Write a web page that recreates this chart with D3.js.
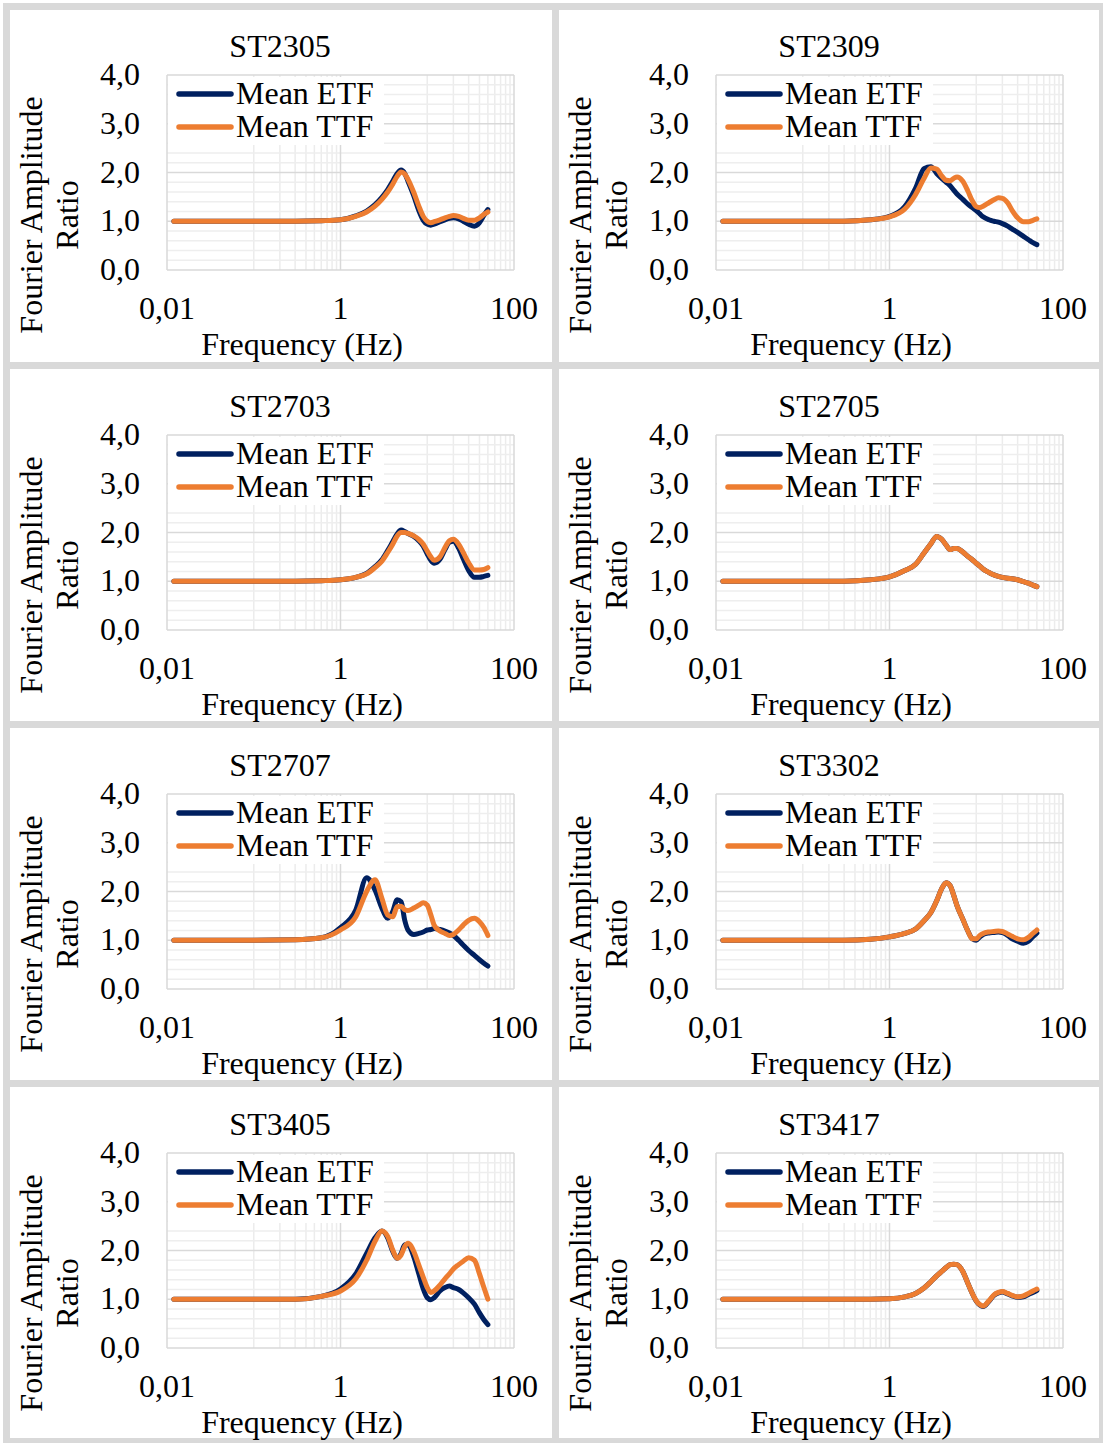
<!DOCTYPE html>
<html>
<head>
<meta charset="utf-8">
<script src="https://cdn.jsdelivr.net/npm/d3@7"></script>
<style>
  body { margin: 0; background: #ffffff; }
  svg text { font-family: "Liberation Serif", "Times New Roman", serif; fill: #000000; }
</style>
</head>
<body>
<svg id="chart" width="1103" height="1443"></svg>
<script>
// Frequency samples (Hz) shared by every station's transfer-function curve
const frequencies = [0.012, 0.1, 0.3, 0.6, 1, 1.5, 2, 2.5, 3, 3.5, 4, 4.5, 5, 5.5, 6, 7, 8, 9, 10, 11, 12, 14, 16, 18, 20, 23, 26, 30, 35, 40, 45, 50];

const stations = ["ST2305", "ST2309", "ST2703", "ST2705", "ST2707", "ST3302", "ST3405", "ST3417"];

// Mean empirical transfer function, one row per station
const meanETF = [
  [1.0,1.0,1.0,1.01,1.03,1.11,1.21,1.34,1.49,1.65,1.82,1.98,2.05,1.98,1.82,1.52,1.22,1.02,0.94,0.92,0.94,0.99,1.03,1.06,1.07,1.05,1.00,0.94,0.90,0.97,1.12,1.24],
  [1.0,1.0,1.0,1.03,1.10,1.30,1.68,2.08,2.12,1.98,1.88,1.80,1.73,1.64,1.56,1.45,1.35,1.28,1.22,1.15,1.09,1.03,1.00,0.98,0.95,0.90,0.84,0.77,0.69,0.62,0.56,0.52],
  [1.0,1.0,1.0,1.01,1.03,1.08,1.16,1.30,1.44,1.63,1.81,1.97,2.05,2.02,1.98,1.92,1.83,1.72,1.56,1.43,1.37,1.45,1.65,1.80,1.82,1.68,1.46,1.22,1.08,1.08,1.10,1.12],
  [1.0,1.0,1.0,1.03,1.09,1.22,1.35,1.58,1.77,1.92,1.86,1.74,1.65,1.67,1.67,1.60,1.51,1.44,1.37,1.31,1.25,1.18,1.13,1.10,1.08,1.06,1.05,1.03,0.99,0.96,0.92,0.89],
  [1.0,1.0,1.01,1.05,1.26,1.62,2.28,2.03,1.66,1.45,1.59,1.83,1.79,1.41,1.21,1.12,1.14,1.17,1.21,1.22,1.24,1.22,1.19,1.15,1.10,1.00,0.90,0.79,0.69,0.60,0.53,0.47],
  [1.0,1.0,1.0,1.02,1.07,1.14,1.23,1.40,1.57,1.81,2.06,2.18,2.12,1.92,1.71,1.43,1.19,1.03,1.00,1.07,1.12,1.15,1.16,1.17,1.16,1.10,1.03,0.98,0.94,0.98,1.07,1.15],
  [1.0,1.0,1.0,1.06,1.21,1.52,1.94,2.26,2.40,2.26,1.98,1.84,1.94,2.12,2.12,1.87,1.52,1.21,1.03,0.99,1.03,1.17,1.24,1.27,1.24,1.20,1.13,1.03,0.90,0.72,0.58,0.48],
  [1.0,1.0,1.0,1.0,1.01,1.05,1.12,1.23,1.36,1.48,1.57,1.65,1.71,1.72,1.71,1.57,1.33,1.12,0.96,0.88,0.85,0.96,1.08,1.13,1.15,1.11,1.07,1.04,1.05,1.10,1.14,1.18]
];

// Mean theoretical transfer function, one row per station
const meanTTF = [
  [1.0,1.0,1.0,1.01,1.03,1.10,1.19,1.31,1.45,1.60,1.76,1.92,2.01,1.97,1.86,1.59,1.31,1.10,1.00,0.97,0.99,1.03,1.07,1.10,1.12,1.10,1.06,1.02,1.02,1.07,1.14,1.19],
  [1.0,1.0,1.0,1.03,1.09,1.25,1.55,1.88,2.09,2.07,1.93,1.84,1.83,1.88,1.91,1.82,1.62,1.42,1.30,1.28,1.31,1.38,1.44,1.48,1.47,1.38,1.22,1.07,0.99,0.99,1.02,1.05],
  [1.0,1.0,1.0,1.01,1.03,1.08,1.15,1.28,1.41,1.59,1.76,1.93,2.00,2.00,1.98,1.93,1.86,1.76,1.62,1.50,1.43,1.50,1.69,1.83,1.86,1.76,1.59,1.38,1.23,1.23,1.24,1.28],
  [1.0,1.0,1.0,1.03,1.09,1.22,1.35,1.58,1.77,1.92,1.86,1.74,1.65,1.67,1.67,1.60,1.51,1.44,1.37,1.31,1.25,1.18,1.13,1.10,1.08,1.06,1.05,1.03,0.99,0.96,0.92,0.89],
  [1.0,1.0,1.01,1.05,1.21,1.48,2.00,2.24,1.86,1.52,1.48,1.69,1.70,1.63,1.61,1.66,1.72,1.77,1.72,1.52,1.31,1.19,1.14,1.10,1.12,1.21,1.31,1.41,1.45,1.38,1.26,1.10],
  [1.0,1.0,1.0,1.02,1.07,1.14,1.23,1.40,1.57,1.81,2.06,2.18,2.12,1.92,1.71,1.43,1.19,1.03,1.03,1.10,1.14,1.17,1.18,1.19,1.18,1.13,1.08,1.03,1.01,1.06,1.14,1.21],
  [1.0,1.0,1.0,1.06,1.17,1.42,1.80,2.19,2.40,2.29,2.01,1.84,1.91,2.08,2.15,1.98,1.70,1.45,1.24,1.14,1.17,1.29,1.42,1.52,1.62,1.71,1.78,1.85,1.80,1.52,1.24,1.00],
  [1.0,1.0,1.0,1.0,1.01,1.05,1.12,1.23,1.36,1.48,1.57,1.65,1.71,1.72,1.71,1.57,1.33,1.12,0.97,0.89,0.86,0.97,1.09,1.14,1.16,1.12,1.08,1.05,1.07,1.12,1.17,1.21]
];

const seriesNames = ["Mean ETF", "Mean TTF"];
const seriesColors = ["#002060", "#ED7D31"];
const yTicks = [0, 1, 2, 3, 4];
const yTickLabels = ["0,0", "1,0", "2,0", "3,0", "4,0"];
const xTicks = [0.01, 1, 100];
const xTickLabels = ["0,01", "1", "100"];
const xTitle = "Frequency (Hz)";
const yTitleLines = ["Fourier Amplitude", "Ratio"];

const svg = d3.select("#chart");
const W = 1103, H = 1443;
const fontSize = 32;

// panel grid: 2 columns x 4 rows
const colX = [10, 559];
const rowY = [10, 370, 729, 1088];

// light gray frame separating the panels
const frameColor = "#d9d9d9";
[3, 552, 1099].forEach(x => svg.append("rect").attr("x", x).attr("y", 3).attr("width", 7).attr("height", H).attr("fill", frameColor));
[3, 362, 721, 1080, 1438].forEach(y => svg.append("rect").attr("x", 3).attr("y", y).attr("width", W).attr("height", 7).attr("fill", frameColor));

// minor gridline positions of the base-100 log axis
const minorX = [];
[0.1, 10].forEach(step => { for (let k = 1; k <= 9; k++) minorX.push(+(step * k).toPrecision(3)); });
const minorY = d3.range(0, 4.0001, 0.2).filter(v => Math.abs(v - Math.round(v)) > 1e-6);

stations.forEach((name, i) => {
  const col = i % 2, row = Math.floor(i / 2);
  const left = colX[col] + 157, width = 347;
  const top = rowY[row] + 65, height = 195;

  const x = d3.scaleLog().domain([0.01, 100]).range([left, left + width]);
  const y = d3.scaleLinear().domain([0, 4]).range([top + height, top]);

  const g = svg.append("g");

  // gridlines
  g.selectAll(null).data(minorX).join("line")
    .attr("x1", d => x(d)).attr("x2", d => x(d))
    .attr("y1", top).attr("y2", top + height)
    .attr("stroke", "#ececec").attr("stroke-width", 1.5);
  g.selectAll(null).data(minorY).join("line")
    .attr("x1", left).attr("x2", left + width)
    .attr("y1", d => y(d)).attr("y2", d => y(d))
    .attr("stroke", "#eeeeee").attr("stroke-width", 1.5);
  g.selectAll(null).data(yTicks).join("line")
    .attr("x1", left).attr("x2", left + width)
    .attr("y1", d => y(d)).attr("y2", d => y(d))
    .attr("stroke", "#d9d9d9").attr("stroke-width", 1.5);
  g.selectAll(null).data(xTicks).join("line")
    .attr("x1", d => x(d)).attr("x2", d => x(d))
    .attr("y1", top).attr("y2", top + height)
    .attr("stroke", "#d9d9d9").attr("stroke-width", 1.5);

  // legend box
  const lg = g.append("g");
  lg.append("rect").attr("x", left + 1).attr("y", top + 2)
    .attr("width", 216).attr("height", 68).attr("fill", "#ffffff");
  seriesNames.forEach((s, k) => {
    const ly = top + 19 + k * 33;
    lg.append("line").attr("x1", left + 12).attr("x2", left + 64)
      .attr("y1", ly).attr("y2", ly)
      .attr("stroke", seriesColors[k]).attr("stroke-width", 5.5).attr("stroke-linecap", "round");
    lg.append("text").attr("x", left + 69).attr("y", ly + 10)
      .attr("font-size", fontSize).text(s);
  });

  // transfer-function curves (ETF first, TTF drawn on top)
  const line = d3.line()
    .x(d => x(d[0])).y(d => y(d[1]))
    .curve(d3.curveMonotoneX);
  [meanETF[i], meanTTF[i]].forEach((vals, k) => {
    g.append("path")
      .datum(frequencies.map((f, j) => [f, vals[j]]))
      .attr("d", line)
      .attr("fill", "none")
      .attr("stroke", seriesColors[k])
      .attr("stroke-width", 5)
      .attr("stroke-linecap", "round")
      .attr("stroke-linejoin", "round");
  });

  // tick labels
  g.selectAll(null).data(yTicks).join("text")
    .attr("x", left - 27).attr("y", d => y(d) + 10)
    .attr("text-anchor", "end").attr("font-size", fontSize)
    .text((d, k) => yTickLabels[k]);
  g.selectAll(null).data(xTicks).join("text")
    .attr("x", d => x(d)).attr("y", top + height + 49)
    .attr("text-anchor", "middle").attr("font-size", fontSize)
    .text((d, k) => xTickLabels[k]);

  // titles
  g.append("text").attr("x", left + 113).attr("y", top - 18)
    .attr("text-anchor", "middle").attr("font-size", fontSize).text(name);
  g.append("text").attr("x", left + 135).attr("y", top + height + 85)
    .attr("text-anchor", "middle").attr("font-size", fontSize).text(xTitle);
  [[-125, yTitleLines[0]], [-89, yTitleLines[1]]].forEach(([dx, t]) => {
    g.append("text")
      .attr("transform", `translate(${left + dx},${top + 140}) rotate(-90)`)
      .attr("text-anchor", "middle").attr("font-size", fontSize).text(t);
  });
});
</script>
</body>
</html>
